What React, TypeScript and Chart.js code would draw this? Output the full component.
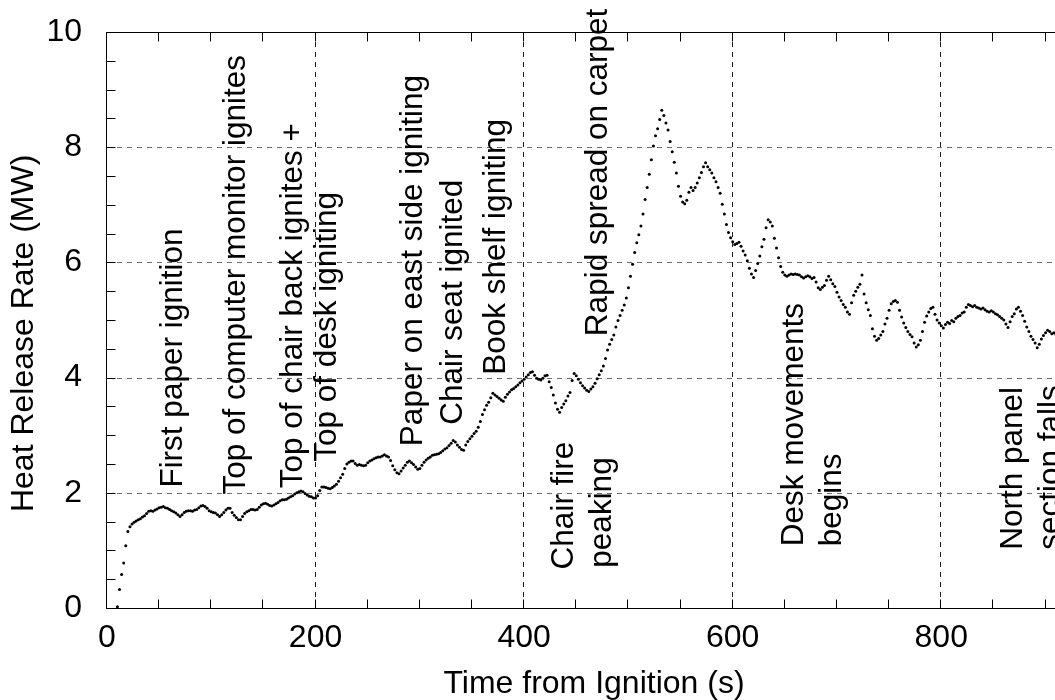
import React, { useEffect, useRef } from 'react';
import { Chart, registerables } from 'chart.js';

Chart.register(...registerables);

const FONT = '"Liberation Sans", Arial, Helvetica, sans-serif';

// Heat release rate (MW), one reading every 2 s
const SAMPLE_STEP = 2;

const growthStart = 10;
const hrrGrowth = [
  0.02, 0.32, 0.58, 0.78, 1.08, 1.33, 1.41, 1.46, 1.49, 1.51,
  1.53, 1.55, 1.58, 1.60, 1.64, 1.68, 1.69, 1.68, 1.70, 1.72,
  1.74, 1.75, 1.76, 1.74, 1.73, 1.71, 1.69, 1.67, 1.65, 1.62,
  1.59, 1.62, 1.66, 1.68, 1.69, 1.69, 1.68, 1.70, 1.71, 1.74,
  1.77, 1.78, 1.76, 1.73, 1.69, 1.67, 1.66, 1.65, 1.62, 1.59,
  1.62, 1.66, 1.70, 1.73, 1.73, 1.66, 1.61, 1.57, 1.53, 1.53,
  1.59, 1.64, 1.67, 1.69, 1.71, 1.71, 1.70, 1.71, 1.75, 1.79,
  1.81, 1.82, 1.80, 1.78, 1.77, 1.79, 1.81, 1.83, 1.86, 1.88,
  1.88, 1.89, 1.91, 1.93, 1.95, 1.98, 2.00, 2.02, 2.03, 2.02,
  1.99, 1.96, 1.94, 1.93, 1.91, 1.91,
];

const spreadStart = 202;
const hrrSpread = [
  1.95, 2.04, 2.10, 2.10, 2.09, 2.08, 2.07, 2.09, 2.12, 2.15,
  2.20, 2.26, 2.32, 2.42, 2.50, 2.53, 2.55, 2.55, 2.51, 2.48,
  2.49, 2.48, 2.47, 2.48, 2.52, 2.55, 2.57, 2.59, 2.61, 2.62,
  2.62, 2.64, 2.66, 2.64, 2.62, 2.56, 2.47, 2.40, 2.35, 2.33,
  2.38, 2.43, 2.48, 2.53, 2.55, 2.52, 2.49, 2.45, 2.41, 2.42,
  2.48, 2.53, 2.57, 2.60, 2.62, 2.65, 2.66, 2.67, 2.68, 2.70,
  2.73, 2.76, 2.78, 2.82, 2.86, 2.91, 2.88, 2.83, 2.79, 2.75,
  2.74, 2.83, 2.89, 2.94, 2.98, 3.03, 3.07, 3.14, 3.24, 3.36,
  3.44, 3.52, 3.57, 3.65, 3.73, 3.70, 3.67, 3.64, 3.61, 3.59,
  3.66, 3.71, 3.75, 3.79, 3.81, 3.84, 3.87, 3.91, 3.94, 3.97,
];

const peakStart = 402;
const hrrPeak = [
  4.01, 4.05, 4.09, 4.10, 4.04, 3.99, 3.97, 3.96, 3.99, 4.03,
  4.04, 3.93, 3.83, 3.70, 3.56, 3.45, 3.40, 3.48, 3.54, 3.60,
  3.68, 3.74, 3.95, 4.07, 4.03, 3.97, 3.91, 3.86, 3.82, 3.78,
  3.76, 3.80, 3.84, 3.90, 3.98, 4.05, 4.12, 4.20, 4.33, 4.48,
  4.58, 4.66, 4.74, 4.88, 4.99, 5.08, 5.17, 5.26, 5.38, 5.56,
  5.76, 5.97, 6.17, 6.34, 6.48, 6.63, 6.84, 7.09, 7.30, 7.53,
  7.78, 8.02, 8.20, 8.32, 8.48, 8.64, 8.55, 8.42, 8.30, 8.10,
  7.92, 7.74, 7.55, 7.32, 7.15, 7.05, 7.02, 7.08, 7.22, 7.30,
  7.25, 7.30, 7.38, 7.47, 7.56, 7.66, 7.73, 7.66, 7.61, 7.55,
  7.47, 7.40, 7.30, 7.20, 7.01, 6.84, 6.66, 6.52, 6.43, 6.36,
];

const decayStart = 602;
const hrrDecay = [
  6.31, 6.33, 6.35, 6.28, 6.20, 6.13, 6.03, 5.90, 5.80, 5.74,
  5.86, 5.98, 6.11, 6.27, 6.40, 6.60, 6.74, 6.70, 6.63, 6.42,
  6.25, 6.08, 5.93, 5.83, 5.78, 5.76, 5.78, 5.80, 5.79, 5.80,
  5.79, 5.78, 5.75, 5.73, 5.75, 5.77, 5.75, 5.72, 5.74, 5.66,
  5.56, 5.53, 5.57, 5.60, 5.69, 5.76, 5.70, 5.63, 5.58, 5.48,
  5.40, 5.34, 5.27, 5.22, 5.14, 5.10, 5.30, 5.43, 5.50, 5.57,
  5.62, 5.78, 5.45, 5.30, 5.18, 5.08, 4.85, 4.72, 4.65, 4.68,
  4.74, 4.80, 4.93, 5.03, 5.17, 5.28, 5.32, 5.34, 5.31, 5.17,
  5.05, 4.95, 4.87, 4.80, 4.75, 4.71, 4.60, 4.53, 4.57, 4.65,
  4.80, 4.96, 5.07, 5.14, 5.20, 5.22, 5.10, 5.00, 4.95, 4.90,
  4.86, 4.92, 4.96, 4.94, 4.99, 4.97, 5.03, 5.06, 5.08, 5.12,
  5.14, 5.22, 5.27, 5.25, 5.23, 5.25, 5.22, 5.21, 5.19, 5.21,
  5.18, 5.15, 5.14, 5.16, 5.14, 5.11, 5.09, 5.06, 5.03, 5.00,
  4.93, 4.87, 4.97, 5.06, 5.11, 5.19, 5.22, 5.15, 5.08, 4.98,
  4.88, 4.80, 4.72, 4.66, 4.60, 4.52, 4.58, 4.67, 4.73, 4.78,
  4.82, 4.80, 4.76, 4.78, 4.75, 4.72,
];

// Axis ticks and grid
const xGridValues = [200, 400, 600, 800];
const yGridValues = [2, 4, 6, 8];

// Event annotations (text start point in data coordinates)
const eventLabels = [
  'First paper ignition',
  'Top of computer monitor ignites',
  'Top of chair back ignites +',
  'Top of desk igniting',
  'Paper on east side igniting',
  'Chair seat ignited',
  'Book shelf igniting',
  'Rapid spread on carpet',
  'Chair fire',
  'peaking',
  'Desk movements',
  'begins',
  'North panel',
  'section falls',
];
const eventX = [72.2, 132.6, 187.2, 219.8, 302.3, 340.6, 381.9, 479.6, 447.0, 483.5, 667.5, 703.9, 877.5, 913.9];
const eventY = [2.09, 1.97, 2.08, 2.54, 2.81, 3.18, 4.05, 4.72, 0.67, 0.70, 1.07, 1.07, 1.01, 1.01];

function segmentPoints(start: number, values: number[]) {
  return values.map((v, i) => ({ x: start + i * SAMPLE_STEP, y: v }));
}

const framePlugin = {
  id: 'frame',
  beforeDatasetsDraw(chart: any) {
    const { ctx, chartArea: a, scales } = chart;
    const x = scales.x;
    const y = scales.y;
    ctx.save();
    ctx.lineWidth = 1;
    ctx.setLineDash([5, 5]);
    ctx.strokeStyle = '#1e1e1e';
    for (const v of xGridValues) {
      const px = Math.round(x.getPixelForValue(v)) - 0.5;
      ctx.beginPath();
      ctx.moveTo(px, a.top);
      ctx.lineTo(px, a.bottom);
      ctx.stroke();
    }
    ctx.strokeStyle = '#6e6e6e';
    for (const v of yGridValues) {
      const py = Math.round(y.getPixelForValue(v)) + 0.5;
      ctx.beginPath();
      ctx.moveTo(a.left, py);
      ctx.lineTo(a.right, py);
      ctx.stroke();
    }
    ctx.restore();
  },
  afterDatasetsDraw(chart: any) {
    const { ctx, chartArea: a, scales } = chart;
    const x = scales.x;
    const y = scales.y;
    ctx.save();
    ctx.setLineDash([]);
    ctx.strokeStyle = '#000';
    ctx.lineWidth = 1;
    const L = Math.round(a.left) - 0.5;
    const T = Math.round(a.top) + 0.5;
    const B = Math.round(a.bottom) + 0.5;
    const R = Math.round(a.right) - 0.5;
    ctx.strokeRect(L, T, R - L, B - T);
    const tl = 9;
    ctx.beginPath();
    for (let v = 50; v < x.max; v += 50) {
      const px = Math.round(x.getPixelForValue(v)) - 0.5;
      ctx.moveTo(px, B);
      ctx.lineTo(px, B - tl);
      ctx.moveTo(px, T);
      ctx.lineTo(px, T + tl);
    }
    for (let v = 0.5; v < 10; v += 0.5) {
      const py = Math.round(y.getPixelForValue(v)) + 0.5;
      ctx.moveTo(L, py);
      ctx.lineTo(L + tl, py);
      ctx.moveTo(R, py);
      ctx.lineTo(R - tl, py);
    }
    ctx.stroke();

    ctx.fillStyle = '#000';
    ctx.font = `31.5px ${FONT}`;
    ctx.textAlign = 'left';
    ctx.textBaseline = 'alphabetic';
    eventLabels.forEach((text, i) => {
      const px = x.getPixelForValue(eventX[i]);
      const py = y.getPixelForValue(eventY[i]);
      ctx.save();
      ctx.translate(px, py);
      ctx.rotate(-Math.PI / 2);
      ctx.fillText(text, 0, 0);
      ctx.restore();
    });
    ctx.restore();
  },
};

export default function App() {
  const ref = useRef<HTMLCanvasElement | null>(null);

  useEffect(() => {
    if (!ref.current) return;
    const data = [
      ...segmentPoints(growthStart, hrrGrowth),
      ...segmentPoints(spreadStart, hrrSpread),
      ...segmentPoints(peakStart, hrrPeak),
      ...segmentPoints(decayStart, hrrDecay),
    ];
    const chart = new Chart(ref.current, {
      type: 'scatter',
      data: {
        datasets: [
          {
            label: 'Heat Release Rate',
            data,
            showLine: false,
            pointRadius: 1.5,
            pointHoverRadius: 1.5,
            pointBackgroundColor: '#000',
            pointBorderWidth: 0,
            borderColor: '#000',
          },
        ],
      },
      options: {
        animation: false,
        responsive: false,
        devicePixelRatio: 1,
        events: [],
        layout: { padding: { top: 32, right: 9, left: 0, bottom: 0 } },
        plugins: {
          legend: { display: false },
          tooltip: { enabled: false },
        },
        scales: {
          x: {
            type: 'linear',
            min: 0,
            max: 934,
            grid: {
              display: true,
              drawOnChartArea: false,
              drawTicks: true,
              tickLength: 11,
              tickColor: 'rgba(0,0,0,0)',
              color: 'rgba(0,0,0,0)',
            },
            border: { display: false },
            ticks: {
              stepSize: 200,
              includeBounds: false,
              autoSkip: false,
              maxRotation: 0,
              padding: 0,
              color: '#000',
              font: { family: FONT, size: 32 },
            },
            title: {
              display: true,
              text: 'Time from Ignition (s)',
              color: '#000',
              font: { family: FONT, size: 32, lineHeight: 1 },
              padding: 0,
            },
            afterFit: (s: any) => {
              s.height = 92;
            },
          },
          y: {
            type: 'linear',
            min: 0,
            max: 10,
            grid: {
              display: true,
              drawOnChartArea: false,
              drawTicks: true,
              tickLength: 25,
              tickColor: 'rgba(0,0,0,0)',
              color: 'rgba(0,0,0,0)',
            },
            border: { display: false },
            ticks: {
              stepSize: 2,
              padding: 0,
              color: '#000',
              font: { family: FONT, size: 32 },
            },
            title: {
              display: true,
              text: 'Heat Release Rate (MW)   ',
              color: '#000',
              font: { family: FONT, size: 32, lineHeight: 1 },
              padding: { top: 8, bottom: 0 },
            },
            afterFit: (s: any) => {
              s.width = 107;
            },
          },
        },
      },
      plugins: [framePlugin],
    } as any);
    return () => chart.destroy();
  }, []);

  return (
    <div
      style={{
        position: 'absolute',
        left: 0,
        top: 0,
        width: 1055,
        height: 700,
        overflow: 'hidden',
        background: '#fff',
      }}
    >
      <canvas ref={ref} width={1090} height={700} style={{ display: 'block', width: 1090, height: 700 }} />
    </div>
  );
}
